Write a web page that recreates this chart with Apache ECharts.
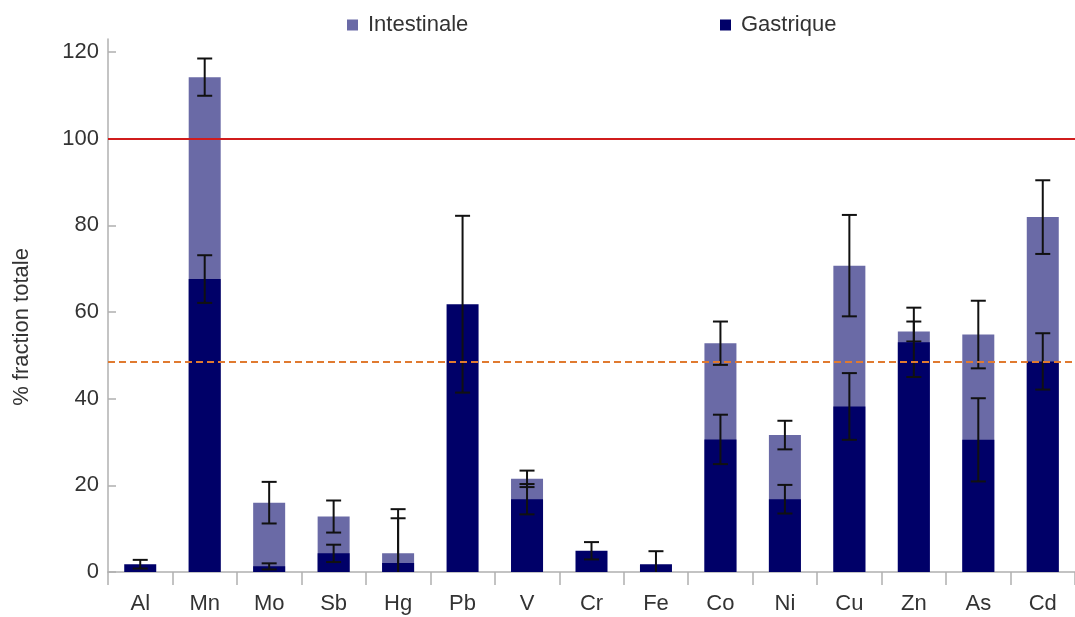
<!DOCTYPE html>
<html>
<head>
<meta charset="utf-8">
<script src="https://cdn.jsdelivr.net/npm/echarts@6/dist/echarts.min.js"></script>
<style>
  html, body { margin: 0; padding: 0; background: #fff; }
  #chart { width: 1075px; height: 617px; }
</style>
</head>
<body>
<div id="chart"></div>
<script>
// Elements analysed
const categories = ['Al', 'Mn', 'Mo', 'Sb', 'Hg', 'Pb', 'V', 'Cr', 'Fe', 'Co', 'Ni', 'Cu', 'Zn', 'As', 'Cd'];

// Bioaccessible fraction (% of total), intestinal phase
const intestinale    = [null, 114.2, 16.0, 12.8, 4.3, null, 21.5, null, null, 52.8, 31.6, 70.7, 55.5, 54.8, 81.9];
const intestinaleErr = [null,   4.3,  4.8,  3.7, 10.2, null, 1.9, null, null,  5.0,  3.3, 11.7,  2.3,  7.8,  8.5];

// Bioaccessible fraction (% of total), gastric phase
const gastrique    = [1.8, 67.6, 1.3, 4.3, 2.1, 61.8, 16.8, 4.9, 1.8, 30.6, 16.8, 38.2, 53.0, 30.5, 48.6];
const gastriqueErr = [1.0,  5.5, 0.7, 2.0, 10.3, 20.4, 3.5, 2.0, 3.0,  5.7,  3.3,  7.7,  8.0,  9.6,  6.5];

// Reference levels
const totalLine = 100;
const meanLine = 48.6;

// y-axis ticks
const yTicks = [0, 20, 40, 60, 80, 100, 120];

const FONT = '"Liberation Sans", Arial, sans-serif';
const TEXT = '#333333';
const COL_INT = '#6a6aa6';
const COL_GAS = '#000068';

function errorSeries(name, values, errs, z) {
  const data = values.map((v, i) => v == null ? null : [i, v - errs[i], v + errs[i]]);
  return {
    type: 'custom',
    name: name + ' err',
    z: z,
    clip: true,
    silent: true,
    data: data.filter(d => d),
    renderItem: function (params, api) {
      const i = api.value(0);
      const lo = api.coord([i, api.value(1)]);
      const hi = api.coord([i, api.value(2)]);
      const half = 7.5;
      const style = { stroke: '#111', lineWidth: 2 };
      return {
        type: 'group',
        children: [
          { type: 'line', shape: { x1: hi[0], y1: hi[1], x2: lo[0], y2: lo[1] }, style: style },
          { type: 'line', shape: { x1: hi[0] - half, y1: hi[1], x2: hi[0] + half, y2: hi[1] }, style: style },
          { type: 'line', shape: { x1: lo[0] - half, y1: lo[1], x2: lo[0] + half, y2: lo[1] }, style: style }
        ]
      };
    },
    encode: { x: 0, y: [1, 2] }
  };
}

const chart = echarts.init(document.getElementById('chart'), null, { renderer: 'canvas' });

chart.setOption({
  animation: false,
  backgroundColor: '#ffffff',
  textStyle: { fontFamily: FONT },
  grid: { left: 108, top: 39, bottom: 45, width: 970, containLabel: false },
  legend: [
    {
      data: ['Intestinale'], left: 342, top: 9, icon: 'rect',
      itemWidth: 11, itemHeight: 11,
      textStyle: { fontFamily: FONT, fontSize: 22, color: TEXT, padding: [0, 0, 0, 5] }
    },
    {
      data: ['Gastrique'], left: 715, top: 9, icon: 'rect',
      itemWidth: 11, itemHeight: 11,
      textStyle: { fontFamily: FONT, fontSize: 22, color: TEXT, padding: [0, 0, 0, 5] }
    }
  ],
  graphic: [{
    type: 'text',
    x: 22, y: 327,
    rotation: Math.PI / 2,
    style: {
      text: '% fraction totale',
      font: '22px ' + FONT,
      fill: TEXT,
      textAlign: 'center',
      textVerticalAlign: 'middle'
    }
  }],
  xAxis: {
    type: 'category',
    data: categories,
    axisLine: { lineStyle: { color: '#b0b0b0', width: 1.5 } },
    axisTick: { show: true, alignWithLabel: false, length: 13, lineStyle: { color: '#b0b0b0', width: 1.5 } },
    axisLabel: { fontFamily: FONT, fontSize: 22, color: TEXT, margin: 21 },
    splitLine: { show: false }
  },
  yAxis: {
    type: 'value',
    min: yTicks[0],
    max: 123,
    interval: 20,
    axisLine: { show: true, lineStyle: { color: '#b0b0b0', width: 1.5 } },
    axisTick: { show: true, inside: true, length: 8, lineStyle: { color: '#b0b0b0', width: 1.5 } },
    axisLabel: { fontFamily: FONT, fontSize: 22, color: TEXT, margin: 9, showMaxLabel: false },
    splitLine: { show: false }
  },
  series: [
    {
      name: 'Intestinale', type: 'bar', data: intestinale,
      barWidth: 32, barGap: '-100%', z: 1,
      itemStyle: { color: COL_INT }
    },
    errorSeries('Intestinale', intestinale, intestinaleErr, 2),
    {
      name: 'Gastrique', type: 'bar', data: gastrique,
      barWidth: 32, barGap: '-100%', z: 3,
      itemStyle: { color: COL_GAS }
    },
    errorSeries('Gastrique', gastrique, gastriqueErr, 4),
    {
      name: 'niveaux', type: 'line', data: [], z: 5, silent: true,
      markLine: {
        silent: true, symbol: 'none', label: { show: false },
        data: [
          { yAxis: totalLine, lineStyle: { color: '#d01c1c', width: 2, type: 'solid' } },
          { yAxis: meanLine, lineStyle: { color: '#e07a30', width: 2, type: [7, 4] } }
        ]
      }
    }
  ]
});
</script>
</body>
</html>
